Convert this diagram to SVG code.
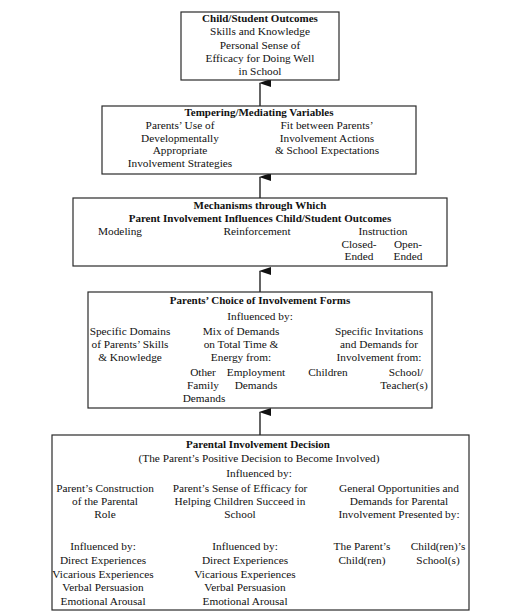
<svg xmlns="http://www.w3.org/2000/svg" width="505" height="616" viewBox="0 0 505 616">
<style>
.box{fill:#fff;stroke:#2a2a2a;stroke-width:1.2}
text{font-family:"Liberation Serif","Times New Roman",serif;font-size:11.3px;fill:#111;text-anchor:middle}
.b{font-weight:bold;font-size:11px}
.conn line{stroke:#111;stroke-width:1.3}
</style>
<defs>
<marker id="ah" markerWidth="8" markerHeight="12" refX="4" refY="1" orient="auto-start-reverse" markerUnits="userSpaceOnUse" viewBox="0 0 8 12">
<path d="M4,0 L8,12 L0,12 Z" fill="#111"/>
</marker>
</defs>
<rect width="505" height="616" fill="#fff"/>
<g class="conn">
<line x1="260" y1="106" x2="260" y2="83" marker-end="url(#ah)"/>
<line x1="260" y1="198" x2="260" y2="177" marker-end="url(#ah)"/>
<line x1="260" y1="292" x2="260" y2="271" marker-end="url(#ah)"/>
<line x1="260" y1="435" x2="260" y2="412" marker-end="url(#ah)"/>
</g>
<g id="outcomes">
<rect class="box" x="181" y="12" width="158" height="68"/>
<text class="b" x="260" y="21.5">Child/Student Outcomes</text>
<text x="260" y="34.5">Skills and Knowledge</text>
<text x="260" y="48.5">Personal Sense of</text>
<text x="260" y="61.5">Efficacy for Doing Well</text>
<text x="260" y="74.5">in School</text>
</g>
<g id="tempering">
<rect class="box" x="102" y="106" width="314" height="68"/>
<text class="b" x="259" y="115.5">Tempering/Mediating Variables</text>
<text x="180" y="129">Parents’ Use of</text>
<text x="180" y="141.5">Developmentally</text>
<text x="180" y="154">Appropriate</text>
<text x="180" y="166.5">Involvement Strategies</text>
<text x="327" y="129">Fit between Parents’</text>
<text x="327" y="141.5">Involvement Actions</text>
<text x="327" y="154">&amp; School Expectations</text>
</g>
<g id="mechanisms">
<rect class="box" x="73" y="198" width="374" height="68"/>
<text class="b" x="260" y="209">Mechanisms through Which</text>
<text class="b" x="260" y="221.5">Parent Involvement Influences Child/Student Outcomes</text>
<text x="120" y="235">Modeling</text>
<text x="257" y="235">Reinforcement</text>
<text x="383" y="235">Instruction</text>
<text x="359" y="247.5">Closed-</text>
<text x="408" y="247.5">Open-</text>
<text x="359" y="260">Ended</text>
<text x="408" y="260">Ended</text>
</g>
<g id="choice">
<rect class="box" x="88" y="292" width="344" height="116"/>
<text class="b" x="260" y="304">Parents’ Choice of Involvement Forms</text>
<text x="260" y="320">Influenced by:</text>
<text x="130" y="335">Specific Domains</text>
<text x="130" y="348">of Parents’ Skills</text>
<text x="130" y="361">&amp; Knowledge</text>
<text x="241" y="335">Mix of Demands</text>
<text x="241" y="348">on Total Time &amp;</text>
<text x="241" y="361">Energy from:</text>
<text x="379" y="335">Specific Invitations</text>
<text x="379" y="348">and Demands for</text>
<text x="379" y="361">Involvement from:</text>
<text x="203" y="376">Other</text>
<text x="203" y="389">Family</text>
<text x="204" y="402">Demands</text>
<text x="256" y="376">Employment</text>
<text x="256" y="389">Demands</text>
<text x="328" y="376">Children</text>
<text x="406" y="376">School/</text>
<text x="404" y="389">Teacher(s)</text>
</g>
<g id="decision">
<rect class="box" x="52" y="435" width="417" height="175"/>
<text class="b" x="258" y="448">Parental Involvement Decision</text>
<text x="259" y="462">(The Parent’s Positive Decision to Become Involved)</text>
<text x="259" y="477">Influenced by:</text>
<text x="105" y="492">Parent’s Construction</text>
<text x="105" y="505">of the Parental</text>
<text x="105" y="518">Role</text>
<text x="240" y="492">Parent’s Sense of Efficacy for</text>
<text x="240" y="505">Helping Children Succeed in</text>
<text x="240" y="518">School</text>
<text x="399" y="492">General Opportunities and</text>
<text x="399" y="505">Demands for Parental</text>
<text x="399" y="518">Involvement Presented by:</text>
<text x="103" y="550">Influenced by:</text>
<text x="103" y="564">Direct Experiences</text>
<text x="103" y="577.5">Vicarious Experiences</text>
<text x="103" y="591">Verbal Persuasion</text>
<text x="103" y="605">Emotional Arousal</text>
<text x="245" y="550">Influenced by:</text>
<text x="245" y="564">Direct Experiences</text>
<text x="245" y="577.5">Vicarious Experiences</text>
<text x="245" y="591">Verbal Persuasion</text>
<text x="245" y="605">Emotional Arousal</text>
<text x="362" y="550">The Parent’s</text>
<text x="362" y="564">Child(ren)</text>
<text x="438" y="550">Child(ren)’s</text>
<text x="438" y="564">School(s)</text>
</g>
</svg>
